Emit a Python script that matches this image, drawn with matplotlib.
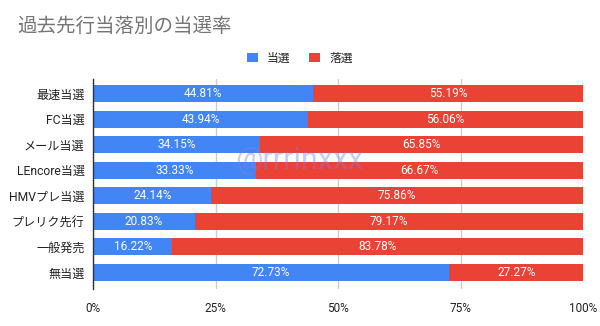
import matplotlib
matplotlib.use("Agg")
import matplotlib.pyplot as plt
from matplotlib.patches import Patch

categories = ["最速当選", "FC当選", "メール当選", "LEncore当選", "HMVプレ当選", "プレリク先行", "一般発売", "無当選"]
win = [44.81, 43.94, 34.15, 33.33, 24.14, 20.83, 16.22, 72.73]
lose = [55.19, 56.06, 65.85, 66.67, 75.86, 79.17, 83.78, 27.27]
series_names = ["当選", "落選"]
xticks = [0, 25, 50, 75, 100]
xtick_labels = ["0%", "25%", "50%", "75%", "100%"]

BLUE = "#4285F4"
RED = "#EA4335"
FONT = ["Roboto", "Noto Sans CJK JP", "DejaVu Sans"]
plt.rcParams["font.family"] = FONT

fig = plt.figure(figsize=(6.0, 3.26), dpi=100)
ax = fig.add_axes([0.155, 0.1132, 0.9717 - 0.155, 0.7586 - 0.1132])

y = list(range(len(categories)))
h = 0.66
ax.barh(y, win, height=h, color=BLUE, zorder=3)
ax.barh(y, lose, left=win, height=h, color=RED, zorder=3)

for i in y:
    ax.text(win[i] / 2, i, f"{win[i]:.2f}%", ha="center", va="center",
            color="white", fontsize=8.5, zorder=4)
    ax.text(win[i] + lose[i] / 2, i, f"{lose[i]:.2f}%", ha="center", va="center",
            color="white", fontsize=8.5, zorder=4)

ax.set_xlim(0, 100)
ax.set_ylim(7.5 + 0.15, -0.5 - 0.08)
ax.set_xticks(xticks)
ax.set_xticklabels(xtick_labels, fontsize=8.5, color="#222222")
ax.set_yticks(y)
ax.set_yticklabels(categories, fontsize=8.7, color="#222222")
ax.tick_params(axis="both", length=0)
ax.tick_params(axis="x", pad=9)
ax.tick_params(axis="y", pad=6)
ax.grid(axis="x", color="#cccccc", linewidth=1, zorder=0)
for s in ["top", "right", "bottom"]:
    ax.spines[s].set_visible(False)
ax.spines["left"].set_color("#333333")
ax.spines["left"].set_linewidth(1)
ax.spines["left"].set_zorder(5)

fig.text(17 / 600, 1 - 27 / 326, "過去先行当落別の当選率", fontsize=14, color="#757575",
         ha="left", va="center")

handles = [Patch(facecolor=BLUE, edgecolor="none"), Patch(facecolor=RED, edgecolor="none")]
fig.legend(handles, series_names, loc="center", bbox_to_anchor=(300 / 600, 1 - 58 / 326),
           ncol=2, frameon=False, fontsize=8.5, handlelength=0.9, handleheight=0.9,
           handletextpad=0.8, columnspacing=1.6, labelcolor="#222222")

fig.text(299 / 600, 1 - 160 / 326, "@rrrinxxx", fontsize=22, color="#8080e0", alpha=0.4,
         ha="center", va="center", zorder=10)

fig.savefig("out.png", dpi=100, facecolor="white")
